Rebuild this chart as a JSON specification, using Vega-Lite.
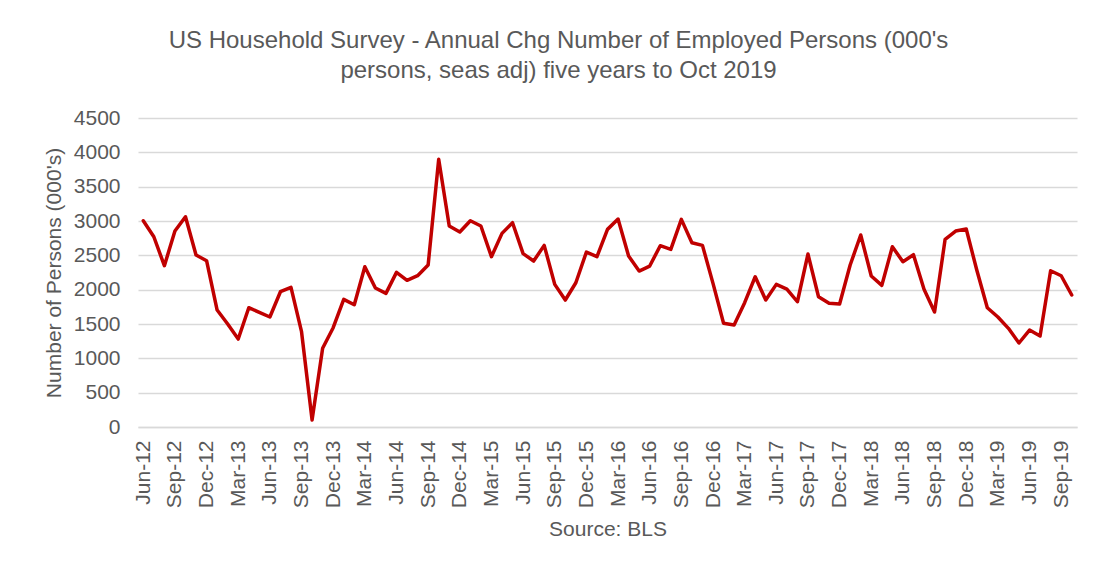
{
  "$schema": "https://vega.github.io/schema/vega-lite/v6.json",
  "autosize": "none",
  "width": 939,
  "height": 309,
  "padding": {"left": 138, "top": 118, "right": 16, "bottom": 139},
  "background": "white",
  "title": {
    "text": ["US Household Survey - Annual Chg Number of Employed Persons (000's", "persons, seas adj) five years to Oct 2019"],
    "anchor": "middle",
    "dx": -49,
    "offset": 24,
    "font": "Liberation Sans",
    "fontSize": 24,
    "fontWeight": "normal",
    "color": "#595959",
    "lineHeight": 30
  },
  "data": {
    "values": [
      {"m": "Jun-12", "v": 3004}, {"m": "Jul-12", "v": 2771}, {"m": "Aug-12", "v": 2349}, {"m": "Sep-12", "v": 2854},
      {"m": "Oct-12", "v": 3062}, {"m": "Nov-12", "v": 2504}, {"m": "Dec-12", "v": 2422}, {"m": "Jan-13", "v": 1703},
      {"m": "Feb-13", "v": 1500}, {"m": "Mar-13", "v": 1281}, {"m": "Apr-13", "v": 1737}, {"m": "May-13", "v": 1670},
      {"m": "Jun-13", "v": 1602}, {"m": "Jul-13", "v": 1970}, {"m": "Aug-13", "v": 2034}, {"m": "Sep-13", "v": 1388},
      {"m": "Oct-13", "v": 102}, {"m": "Nov-13", "v": 1146}, {"m": "Dec-13", "v": 1446}, {"m": "Jan-14", "v": 1859},
      {"m": "Feb-14", "v": 1781}, {"m": "Mar-14", "v": 2334}, {"m": "Apr-14", "v": 2025}, {"m": "May-14", "v": 1946},
      {"m": "Jun-14", "v": 2252}, {"m": "Jul-14", "v": 2136}, {"m": "Aug-14", "v": 2203}, {"m": "Sep-14", "v": 2359},
      {"m": "Oct-14", "v": 3898}, {"m": "Nov-14", "v": 2927}, {"m": "Dec-14", "v": 2839}, {"m": "Jan-15", "v": 3004},
      {"m": "Feb-15", "v": 2927}, {"m": "Mar-15", "v": 2480}, {"m": "Apr-15", "v": 2820}, {"m": "May-15", "v": 2975},
      {"m": "Jun-15", "v": 2524}, {"m": "Jul-15", "v": 2417}, {"m": "Aug-15", "v": 2645}, {"m": "Sep-15", "v": 2077},
      {"m": "Oct-15", "v": 1849}, {"m": "Nov-15", "v": 2101}, {"m": "Dec-15", "v": 2548}, {"m": "Jan-16", "v": 2480},
      {"m": "Feb-16", "v": 2878}, {"m": "Mar-16", "v": 3028}, {"m": "Apr-16", "v": 2490}, {"m": "May-16", "v": 2271},
      {"m": "Jun-16", "v": 2344}, {"m": "Jul-16", "v": 2640}, {"m": "Aug-16", "v": 2587}, {"m": "Sep-16", "v": 3024},
      {"m": "Oct-16", "v": 2684}, {"m": "Nov-16", "v": 2645}, {"m": "Dec-16", "v": 2092}, {"m": "Jan-17", "v": 1510},
      {"m": "Feb-17", "v": 1485}, {"m": "Mar-17", "v": 1810}, {"m": "Apr-17", "v": 2188}, {"m": "May-17", "v": 1849},
      {"m": "Jun-17", "v": 2077}, {"m": "Jul-17", "v": 2009}, {"m": "Aug-17", "v": 1824}, {"m": "Sep-17", "v": 2519},
      {"m": "Oct-17", "v": 1897}, {"m": "Nov-17", "v": 1801}, {"m": "Dec-17", "v": 1791}, {"m": "Jan-18", "v": 2359},
      {"m": "Feb-18", "v": 2796}, {"m": "Mar-18", "v": 2199}, {"m": "Apr-18", "v": 2063}, {"m": "May-18", "v": 2625},
      {"m": "Jun-18", "v": 2407}, {"m": "Jul-18", "v": 2509}, {"m": "Aug-18", "v": 2005}, {"m": "Sep-18", "v": 1674},
      {"m": "Oct-18", "v": 2733}, {"m": "Nov-18", "v": 2854}, {"m": "Dec-18", "v": 2883}, {"m": "Jan-19", "v": 2286},
      {"m": "Feb-19", "v": 1737}, {"m": "Mar-19", "v": 1602}, {"m": "Apr-19", "v": 1437}, {"m": "May-19", "v": 1223},
      {"m": "Jun-19", "v": 1412}, {"m": "Jul-19", "v": 1325}, {"m": "Aug-19", "v": 2276}, {"m": "Sep-19", "v": 2203},
      {"m": "Oct-19", "v": 1922}
    ]
  },
  "mark": {"type": "line", "color": "#C00000", "strokeWidth": 3.5, "strokeJoin": "round", "strokeCap": "round"},
  "encoding": {
    "x": {
      "field": "m",
      "type": "ordinal",
      "sort": null,
      "scale": {"type": "point", "padding": 0.5},
      "axis": {
        "title": "Source: BLS",
        "values": ["Jun-12", "Sep-12", "Dec-12", "Mar-13", "Jun-13", "Sep-13", "Dec-13", "Mar-14", "Jun-14", "Sep-14", "Dec-14", "Mar-15", "Jun-15", "Sep-15", "Dec-15", "Mar-16", "Jun-16", "Sep-16", "Dec-16", "Mar-17", "Jun-17", "Sep-17", "Dec-17", "Mar-18", "Jun-18", "Sep-18", "Dec-18", "Mar-19", "Jun-19", "Sep-19"],
        "labelAngle": -90,
        "labelAlign": "right",
        "labelBaseline": "middle",
        "labelPadding": 13,
        "labelFont": "Liberation Sans",
        "labelFontSize": 21,
        "labelColor": "#595959",
        "ticks": false,
        "domain": true,
        "domainColor": "#D9D9D9",
        "domainWidth": 1.3,
        "grid": false,
        "titleFont": "Liberation Sans",
        "titleFontSize": 21,
        "titleFontWeight": "normal",
        "titleColor": "#595959",
        "titlePadding": 11
      }
    },
    "y": {
      "field": "v",
      "type": "quantitative",
      "scale": {"domain": [0, 4500], "nice": false},
      "axis": {
        "title": "Number of Persons (000's)",
        "values": [0, 500, 1000, 1500, 2000, 2500, 3000, 3500, 4000, 4500],
        "format": "d",
        "labelFont": "Liberation Sans",
        "labelFontSize": 21,
        "labelColor": "#595959",
        "labelPadding": 18,
        "ticks": false,
        "domain": false,
        "grid": true,
        "gridColor": "#D9D9D9",
        "gridWidth": 1.3,
        "titleFont": "Liberation Sans",
        "titleFontSize": 21,
        "titleFontWeight": "normal",
        "titleColor": "#595959",
        "titlePadding": 9
      }
    }
  },
  "config": {"view": {"stroke": null}}
}
